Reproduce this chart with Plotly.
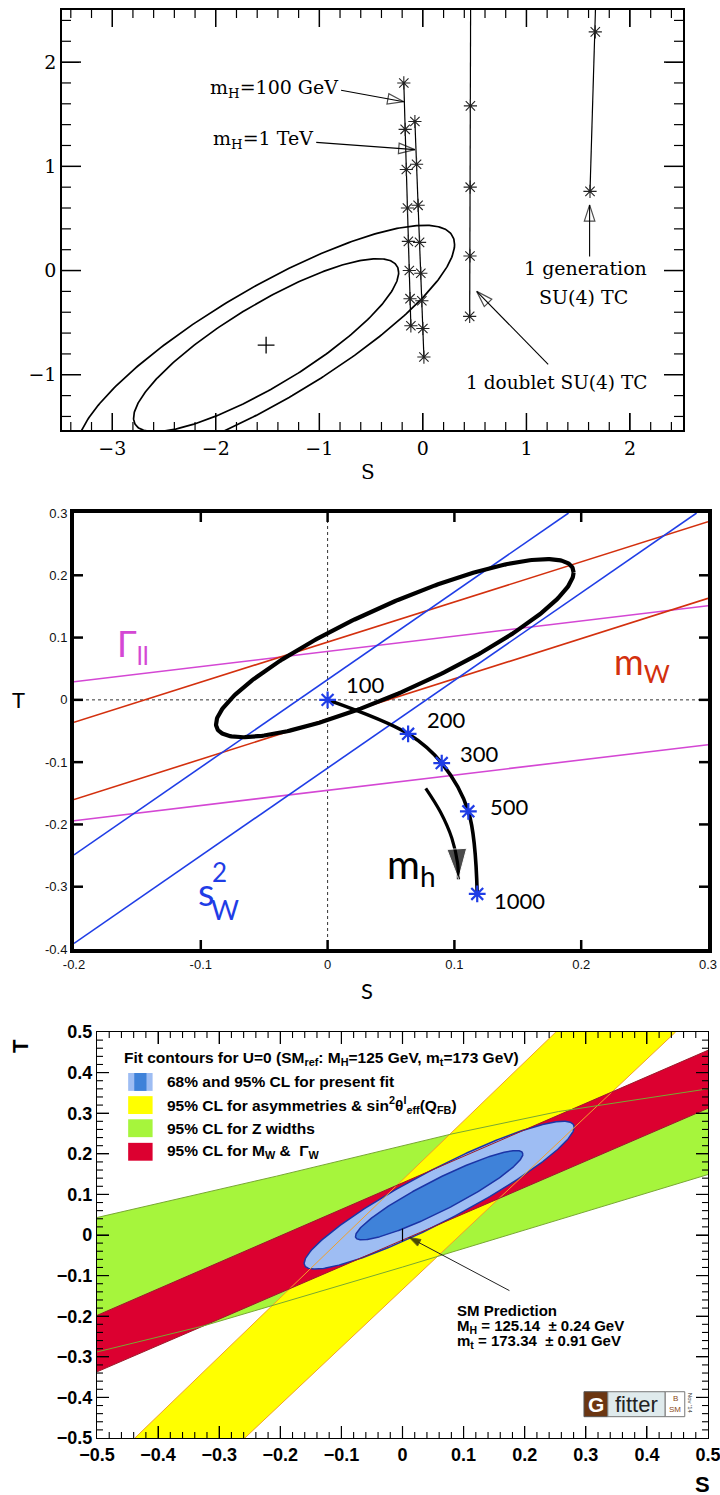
import numpy as np
import plotly.graph_objects as go

W, H = 720, 1495

# ================= Panel 1 (scanned S-T plot) =================
p1_mh100_S = [-0.184, -0.171, -0.160, -0.149, -0.140, -0.131, -0.124, -0.116]
p1_mh100_T = [1.80, 1.355, 0.97, 0.60, 0.28, 0.0, -0.27, -0.53]
p1_mh1000_S = [-0.077, -0.061, -0.046, -0.032, -0.020, -0.010, 0.000, 0.010]
p1_mh1000_T = [1.43, 1.02, 0.626, 0.27, -0.026, -0.29, -0.556, -0.83]
p1_doublet_line_S = [0.461, 0.452]
p1_doublet_line_T = [2.55, -0.44]
p1_doublet_star_S = [0.459, 0.457, 0.455, 0.452]
p1_doublet_star_T = [1.58, 0.80, 0.14, -0.44]
p1_gen_line_S = [1.668, 1.614]
p1_gen_line_T = [2.55, 0.76]
p1_gen_star_S = [1.665, 1.614]
p1_gen_star_T = [2.29, 0.76]
p1_center = [-1.514, -0.716]
p1_sig_outer = [1.82, 1.15]
p1_sig_inner = [1.28, 0.83]
p1_rho = 0.84
p1_arrow_gen_S, p1_arrow_gen_T = [1.61, 1.61], [0.135, 0.63]
p1_arrow_dbl_S, p1_arrow_dbl_T = [1.21, 0.52], [-0.90, -0.20]
p1_arrow_100_S, p1_arrow_100_T = [-0.79, -0.184], [1.73, 1.62]
p1_arrow_1tev_S, p1_arrow_1tev_T = [-1.03, -0.077], [1.23, 1.16]
p1_xmajor = [-3, -2, -1, 0, 1, 2]
p1_xlabels = ["\u22123", "\u22122", "\u22121", "0", "1", "2"]
p1_ymajor = [-1, 0, 1, 2]
p1_ylabels = ["\u22121", "0", "1", "2"]
p1_minor_step = 0.2

# ================= Panel 2 (coloured lines) =================
p2_S_ends = [-0.2, 0.3]
p2_sw_hi_S, p2_sw_hi_T = [-0.2, 0.19], [-0.249, 0.30]
p2_sw_lo_S, p2_sw_lo_T = [-0.2, 0.291], [-0.391, 0.30]
p2_mw_hi_T = [-0.036, 0.286]
p2_mw_lo_T = [-0.160, 0.163]
p2_gll_hi_T = [0.029, 0.151]
p2_gll_lo_T = [-0.194, -0.072]
p2_center = [0.053, 0.083]
p2_sig = [0.141, 0.143]
p2_rho = 0.85
p2_mh_S = [0.0, 0.0635, 0.090, 0.111, 0.118]
p2_mh_T = [0.0, -0.0545, -0.1015, -0.179, -0.3116]
p2_mh_labels = ["100", "200", "300", "500", "1000"]
p2_lab_S = [0.013, 0.077, 0.103, 0.1266, 0.130]
p2_lab_T = [0.024, -0.032, -0.0855, -0.171, -0.322]
p2_arrow_S = [0.0774, 0.089, 0.098, 0.1025, 0.1032]
p2_arrow_T = [-0.142, -0.180, -0.222, -0.262, -0.288]
p2_xmajor = [-0.2, -0.1, 0, 0.1, 0.2, 0.3]
p2_xlabels = ["-0.2", "-0.1", "0", "0.1", "0.2", "0.3"]
p2_ymajor = [-0.4, -0.3, -0.2, -0.1, 0, 0.1, 0.2, 0.3]
p2_ylabels = ["-0.4", "-0.3", "-0.2", "-0.1", "0", "0.1", "0.2", "0.3"]

# ================= Panel 3 (Gfitter) =================
p3_yellow_left_S = [-0.438, 0.251]
p3_yellow_right_S = [-0.258, 0.447]
p3_yellow_T = [-0.5, 0.5]
p3_red_S = [-0.5, 0.5]
p3_red_up_T = [-0.198, 0.455]
p3_red_lo_T = [-0.337, 0.312]
p3_green_up_S = [-0.5, -0.206, 0.081, 0.255, 0.5]
p3_green_up_T = [0.043, 0.145, 0.249, 0.304, 0.36]
p3_green_lo_S = [-0.5, -0.326, 0.0, 0.5]
p3_green_lo_T = [-0.288, -0.224, -0.079, 0.149]
p3_center = [0.060, 0.098]
p3_sig95 = [0.221, 0.182]
p3_sig68 = [0.137, 0.110]
p3_rho = 0.92
p3_sm = [0.0, 0.0]
p3_sm_arrow_S = [0.175, 0.011]
p3_sm_arrow_T = [-0.137, -0.006]
p3_major = [-0.5, -0.4, -0.3, -0.2, -0.1, 0, 0.1, 0.2, 0.3, 0.4, 0.5]
p3_labels = ["\u22120.5", "\u22120.4", "\u22120.3", "\u22120.2", "\u22120.1", "0",
             "0.1", "0.2", "0.3", "0.4", "0.5"]
p3_minor_step = 0.02
p3_leg_title = "Fit contours for U=0 (SM<sub>ref</sub>: M<sub>H</sub>=125 GeV, m<sub>t</sub>=173 GeV)"
p3_leg_labels = [
    "68% and 95% CL for present fit",
    "95% CL for asymmetries & sin<sup>2</sup>\u03b8<sup>l</sup><sub>eff</sub>(Q<sub>FB</sub>)",
    "95% CL for Z widths",
    "95% CL for M<sub>W</sub> &  \u0393<sub>W</sub>",
]
p3_leg_T = [0.377, 0.320, 0.263, 0.205]
p3_sm_text = ["SM Prediction",
              "M<sub>H</sub> = 125.14  \u00b1 0.24 GeV",
              "m<sub>t</sub> = 173.34  \u00b1 0.91 GeV"]
p3_sm_text_T = [-0.186, -0.226, -0.263]

# ---------- colours ----------
C_BLUE = "#1f3de6"
C_RED = "#d3300e"
C_MAG = "#d447d4"
C_YEL = "#ffff00"
C_YEL_EDGE = "#f2a02a"
C_GREEN = "#a6f53c"
C_GREEN_EDGE = "#78a832"
C_CRIMSON = "#dc0030"
C_CRIMSON_EDGE = "#9a1a2a"
C_LBLUE = "#9ebdf3"
C_DBLUE = "#3f82d9"
C_NAVY = "#1b34a6"

SERIF = "DejaVu Serif, Liberation Serif, serif"
SANS2 = "Lato, Open Sans, sans-serif"
HELV = "Liberation Sans, Arial, sans-serif"

P1_BOX = (62, 683, 10, 430)     # left, right, top, bottom (px)
P2_BOX = (74, 708, 513, 949)
P3_BOX = (97, 708, 1032, 1438)
p1_xr, p1_yr = [-3.485, 2.512], [-1.53, 2.5]
p2_xr, p2_yr = [-0.2, 0.3], [-0.4, 0.3]
p3_xr, p3_yr = [-0.5, 0.5], [-0.5, 0.5]


def ellipse(center, sig, rho, n=361):
    t = np.linspace(0, 2 * np.pi, n)
    s = center[0] + sig[0] * np.cos(t)
    tt = center[1] + sig[1] * (rho * np.cos(t) + np.sqrt(1 - rho ** 2) * np.sin(t))
    return s, tt


def dom_x(box):
    return [box[0] / W, box[1] / W]


def dom_y(box):
    return [1 - box[3] / H, 1 - box[2] / H]


fig = go.Figure()

# ---------------- Panel 1 traces ----------------
ax1 = dict(xaxis="x", yaxis="y")
for sig in (p1_sig_outer, p1_sig_inner):
    es, et = ellipse(p1_center, sig, p1_rho)
    fig.add_trace(go.Scatter(x=es, y=et, mode="lines",
                             line=dict(color="black", width=1.7), **ax1))
fig.add_trace(go.Scatter(x=[p1_center[0]], y=[p1_center[1]], mode="markers",
                         marker=dict(symbol="cross-thin-open", size=12, color="black",
                                     line=dict(color="black", width=1.3)), **ax1))
star1 = dict(symbol="asterisk-open", size=11, color="#222", line=dict(color="#222", width=1.1))
for xs, ys in ((p1_mh100_S, p1_mh100_T), (p1_mh1000_S, p1_mh1000_T)):
    fig.add_trace(go.Scatter(x=[xs[0], xs[-1]], y=[ys[0], ys[-1]], mode="lines",
                             line=dict(color="black", width=1.2), **ax1))
    fig.add_trace(go.Scatter(x=xs, y=ys, mode="markers", marker=star1, **ax1))
for (lx, ly), (sx, sy) in (((p1_doublet_line_S, p1_doublet_line_T), (p1_doublet_star_S, p1_doublet_star_T)),
                           ((p1_gen_line_S, p1_gen_line_T), (p1_gen_star_S, p1_gen_star_T))):
    fig.add_trace(go.Scatter(x=lx, y=ly, mode="lines",
                             line=dict(color="black", width=1.2), **ax1))
    fig.add_trace(go.Scatter(x=sx, y=sy, mode="markers", marker=star1, **ax1))
for xs, ys in ((p1_arrow_gen_S, p1_arrow_gen_T), (p1_arrow_dbl_S, p1_arrow_dbl_T),
               (p1_arrow_100_S, p1_arrow_100_T), (p1_arrow_1tev_S, p1_arrow_1tev_T)):
    fig.add_trace(go.Scatter(x=xs, y=ys, mode="lines+markers",
                             line=dict(color="black", width=1.1),
                             marker=dict(symbol="arrow-open", size=[0, 17], angleref="previous",
                                         color="black", line=dict(color="black", width=1.2)),
                             **ax1))

# ---------------- Panel 2 traces ----------------
ax2 = dict(xaxis="x2", yaxis="y2")
fig.add_trace(go.Scatter(x=[0, 0], y=p2_yr, mode="lines",
                         line=dict(color="#333", width=1, dash="dot"), **ax2))
fig.add_trace(go.Scatter(x=p2_S_ends, y=[0, 0], mode="lines",
                         line=dict(color="#333", width=1, dash="dot"), **ax2))
for ys in (p2_gll_hi_T, p2_gll_lo_T):
    fig.add_trace(go.Scatter(x=p2_S_ends, y=ys, mode="lines",
                             line=dict(color=C_MAG, width=1.6), **ax2))
for ys in (p2_mw_hi_T, p2_mw_lo_T):
    fig.add_trace(go.Scatter(x=p2_S_ends, y=ys, mode="lines",
                             line=dict(color=C_RED, width=1.6), **ax2))
for xs, ys in ((p2_sw_hi_S, p2_sw_hi_T), (p2_sw_lo_S, p2_sw_lo_T)):
    fig.add_trace(go.Scatter(x=xs, y=ys, mode="lines",
                             line=dict(color=C_BLUE, width=1.6), **ax2))
es, et = ellipse(p2_center, p2_sig, p2_rho)
fig.add_trace(go.Scatter(x=es, y=et, mode="lines",
                         line=dict(color="black", width=4.2), **ax2))
fig.add_trace(go.Scatter(x=p2_mh_S, y=p2_mh_T, mode="lines",
                         line=dict(color="black", width=3.6, shape="spline", smoothing=1.0), **ax2))
fig.add_trace(go.Scatter(x=p2_mh_S, y=p2_mh_T, mode="markers",
                         marker=dict(symbol="asterisk-open", size=14, color=C_BLUE,
                                     line=dict(color=C_BLUE, width=2.2)), **ax2))
fig.add_trace(go.Scatter(x=p2_arrow_S, y=p2_arrow_T, mode="lines+markers",
                         line=dict(color="black", width=3.2, shape="spline"),
                         marker=dict(symbol="arrow", size=[0, 0, 0, 0, 32], angleref="previous",
                                     color="black"), **ax2))

# ---------------- Panel 3 traces ----------------
ax3 = dict(xaxis="x3", yaxis="y3")
gx = p3_green_up_S + p3_green_lo_S[::-1]
gy = p3_green_up_T + p3_green_lo_T[::-1]
fig.add_trace(go.Scatter(x=gx, y=gy, mode="lines", fill="toself", fillcolor=C_GREEN,
                         line=dict(width=0), **ax3))
yx = p3_yellow_left_S + p3_yellow_right_S[::-1]
yy = p3_yellow_T + p3_yellow_T[::-1]
fig.add_trace(go.Scatter(x=yx, y=yy, mode="lines", fill="toself", fillcolor=C_YEL,
                         line=dict(width=0), **ax3))
rx = p3_red_S + p3_red_S[::-1]
ry = p3_red_up_T + p3_red_lo_T[::-1]
fig.add_trace(go.Scatter(x=rx, y=ry, mode="lines", fill="toself", fillcolor=C_CRIMSON,
                         line=dict(width=0), **ax3))
for sig, col in ((p3_sig95, C_LBLUE), (p3_sig68, C_DBLUE)):
    es, et = ellipse(p3_center, sig, p3_rho)
    fig.add_trace(go.Scatter(x=es, y=et, mode="lines", fill="toself", fillcolor=col,
                             line=dict(color=C_NAVY, width=1.5), **ax3))
for xs, ys, col in ((p3_yellow_left_S, p3_yellow_T, C_YEL_EDGE),
                    (p3_yellow_right_S, p3_yellow_T, C_YEL_EDGE),
                    (p3_red_S, p3_red_up_T, C_CRIMSON_EDGE),
                    (p3_red_S, p3_red_lo_T, C_CRIMSON_EDGE),
                    (p3_green_up_S, p3_green_up_T, C_GREEN_EDGE),
                    (p3_green_lo_S, p3_green_lo_T, C_GREEN_EDGE)):
    fig.add_trace(go.Scatter(x=xs, y=ys, mode="lines", line=dict(color=col, width=1), **ax3))
fig.add_trace(go.Scatter(x=[p3_sm[0]], y=[p3_sm[1]], mode="markers",
                         marker=dict(symbol="line-ns-open", size=9, color="black",
                                     line=dict(color="black", width=1.2)), **ax3))
fig.add_trace(go.Scatter(x=p3_sm_arrow_S, y=p3_sm_arrow_T, mode="lines+markers",
                         line=dict(color="#222", width=1),
                         marker=dict(symbol="arrow", size=[0, 12], angleref="previous",
                                     color="black"), **ax3))


# ---------------- inside tick marks on all four sides, from the tick values ----------------
def minor_vals(lo, hi, step, majors):
    k0, k1 = int(np.ceil(lo / step - 1e-9)), int(np.floor(hi / step + 1e-9))
    vals = [round(k * step, 6) for k in range(k0, k1 + 1)]
    return [v for v in vals if all(abs(v - m) > 1e-6 for m in majors)]


def add_tick_trace(xa, ya, box, xr, yr, xvals, yvals, len_x, len_y, width):
    wpx, hpx = box[1] - box[0], box[3] - box[2]
    dy = len_x * (yr[1] - yr[0]) / hpx
    dx = len_y * (xr[1] - xr[0]) / wpx
    xs, ys = [], []
    for v in xvals:
        if xr[0] < v < xr[1]:
            xs += [v, v, None, v, v, None]
            ys += [yr[0], yr[0] + dy, None, yr[1], yr[1] - dy, None]
    for v in yvals:
        if yr[0] < v < yr[1]:
            xs += [xr[0], xr[0] + dx, None, xr[1], xr[1] - dx, None]
            ys += [v, v, None, v, v, None]
    fig.add_trace(go.Scatter(x=xs, y=ys, mode="lines",
                             line=dict(color="black", width=width),
                             xaxis=xa, yaxis=ya, hoverinfo="skip"))


add_tick_trace("x", "y", P1_BOX, p1_xr, p1_yr, p1_xmajor, p1_ymajor, 17, 19, 1.5)
add_tick_trace("x", "y", P1_BOX, p1_xr, p1_yr,
               minor_vals(*p1_xr, p1_minor_step, p1_xmajor),
               minor_vals(*p1_yr, p1_minor_step, p1_ymajor), 8, 9, 1.2)
add_tick_trace("x2", "y2", P2_BOX, p2_xr, p2_yr, p2_xmajor, p2_ymajor, 9, 9, 2.5)
add_tick_trace("x3", "y3", P3_BOX, p3_xr, p3_yr, p3_major, p3_major, 12, 12, 1.2)
add_tick_trace("x3", "y3", P3_BOX, p3_xr, p3_yr,
               minor_vals(*p3_xr, p3_minor_step, p3_major),
               minor_vals(*p3_yr, p3_minor_step, p3_major), 6, 6, 1.1)

# ---------------- annotations ----------------
ann = []


def txt(x, y, text, size, color="black", family=SERIF, xref="x", yref="y",
        xanchor="center", yanchor="middle", textangle=0, weight="normal"):
    ann.append(dict(x=x, y=y, xref=xref, yref=yref, text=text, showarrow=False,
                    font=dict(size=size, color=color, family=family, weight=weight),
                    xanchor=xanchor, yanchor=yanchor, textangle=textangle))


txt(-0.80, 1.75, "m<sub>H</sub>=100 GeV", 19, xanchor="right")
txt(-1.04, 1.26, "m<sub>H</sub>=1 TeV", 19, xanchor="right")
txt(1.575, 0.02, "1 generation", 19)
txt(1.555, -0.25, "SU(4) TC", 19)
txt(1.29, -1.07, "1 doublet SU(4) TC", 18.5)
txt(368 / W, 1 - 472 / H, "S", 20, xref="paper", yref="paper")

for s, t, lab in zip(p2_lab_S, p2_lab_T, p2_mh_labels):
    txt(s, t, lab, 22, family=SANS2, xref="x2", yref="y2", xanchor="left")
txt(-0.168, 0.088, "\u0393<sub>ll</sub>", 36, color=C_MAG, family=SANS2,
    xref="x2", yref="y2", xanchor="left")
txt(0.224, 0.058, "m<sub>W</sub>", 36, color=C_RED, family=SANS2,
    xref="x2", yref="y2", xanchor="left")
txt(-0.1035, -0.307, "s", 38, color=C_BLUE, family=SANS2, xref="x2", yref="y2", xanchor="left")
txt(-0.0925, -0.276, "2", 26, color=C_BLUE, family=SANS2, xref="x2", yref="y2", xanchor="left")
txt(-0.0935, -0.336, "W", 27, color=C_BLUE, family=SANS2, xref="x2", yref="y2", xanchor="left")
txt(0.045, -0.268, "m<sub>h</sub>", 40, family=SANS2, xref="x2", yref="y2", xanchor="left")
txt(18 / W, 1 - 699 / H, "T", 22, family=SANS2, xref="paper", yref="paper")
txt(367 / W, 1 - 990 / H, "S", 22, family=SANS2, xref="paper", yref="paper")

txt(-0.4596, 0.435, p3_leg_title, 15.5, family=HELV, xref="x3", yref="y3", xanchor="left",
    weight="bold")
for t, lab in zip(p3_leg_T, p3_leg_labels):
    txt(-0.389, t, lab, 15.5, family=HELV, xref="x3", yref="y3", xanchor="left", weight="bold")
for t, lab in zip(p3_sm_text_T, p3_sm_text):
    txt(0.086, t, lab, 15, family=HELV, xref="x3", yref="y3", xanchor="left", weight="bold")
txt(20 / W, 1 - 1046 / H, "T", 22, family=HELV, xref="paper", yref="paper",
    textangle=-90, weight="bold")
txt(702 / W, 1 - 1484 / H, "S", 22, family=HELV, xref="paper", yref="paper", weight="bold")
txt(0.3165, -0.417, "G", 21, color="white", family=HELV, xref="x3", yref="y3", weight="bold")
txt(0.383, -0.418, "fitter", 22, color="#222", family=HELV, xref="x3", yref="y3")
txt(0.446, -0.402, "B", 8, color="#8a4a1a", family=HELV, xref="x3", yref="y3")
txt(0.446, -0.430, "SM", 8, color="#8a4a1a", family=HELV, xref="x3", yref="y3")
txt(0.471, -0.414, "Nov '14", 6, color="#333", family=HELV,
    xref="x3", yref="y3", textangle=90)

shapes = []
sw_x0, sw_x1 = -0.449, -0.409
sw_h = 0.022
shapes.append(dict(type="rect", xref="x3", yref="y3", x0=sw_x0, x1=sw_x1,
                   y0=p3_leg_T[0] - sw_h, y1=p3_leg_T[0] + sw_h, fillcolor=C_LBLUE,
                   line=dict(width=0)))
shapes.append(dict(type="rect", xref="x3", yref="y3", x0=sw_x0 + 0.010, x1=sw_x1 - 0.010,
                   y0=p3_leg_T[0] - sw_h, y1=p3_leg_T[0] + sw_h, fillcolor=C_DBLUE,
                   line=dict(width=0)))
for t, col in zip(p3_leg_T[1:], (C_YEL, C_GREEN, C_CRIMSON)):
    shapes.append(dict(type="rect", xref="x3", yref="y3", x0=sw_x0, x1=sw_x1,
                       y0=t - sw_h, y1=t + sw_h, fillcolor=col, line=dict(width=0)))
shapes.append(dict(type="rect", xref="x3", yref="y3", x0=0.297, x1=0.336, y0=-0.4475, y1=-0.386,
                   fillcolor="#6b3612", line=dict(color="#555", width=1)))
shapes.append(dict(type="rect", xref="x3", yref="y3", x0=0.336, x1=0.430, y0=-0.4475, y1=-0.386,
                   fillcolor="#dfeaec", line=dict(color="#777", width=1)))
shapes.append(dict(type="rect", xref="x3", yref="y3", x0=0.430, x1=0.462, y0=-0.4475, y1=-0.386,
                   fillcolor="white", line=dict(color="#777", width=1)))

# ---------------- axes ----------------
base = dict(showgrid=False, zeroline=False, showline=True, linecolor="black",
            mirror="allticks", ticks="inside", tickcolor="black", tickmode="array",
            automargin=False, ticklabeloverflow="allow")
common1 = dict(base, linewidth=1.5, tickwidth=1, ticklen=17,
               tickfont=dict(family=SERIF, size=19, color="black"))
xaxis1 = dict(common1, domain=dom_x(P1_BOX), range=p1_xr, anchor="y",
              tickvals=p1_xmajor, ticktext=p1_xlabels)
yaxis1 = dict(common1, domain=dom_y(P1_BOX), range=p1_yr, anchor="x",
              tickvals=p1_ymajor, ticktext=p1_ylabels)

common2 = dict(base, linewidth=4, tickwidth=1, ticklen=9,
               tickfont=dict(family=HELV, size=13, color="#111"))
xaxis2 = dict(common2, domain=dom_x(P2_BOX), range=p2_xr, anchor="y2",
              tickvals=p2_xmajor, ticktext=p2_xlabels)
yaxis2 = dict(common2, domain=dom_y(P2_BOX), range=p2_yr, anchor="x2",
              tickvals=p2_ymajor, ticktext=p2_ylabels)

common3 = dict(base, linewidth=1.2, tickwidth=1, ticklen=12,
               tickfont=dict(family=HELV, size=18, color="black", weight="bold"),
               tickvals=p3_major, ticktext=p3_labels)
xaxis3 = dict(common3, domain=dom_x(P3_BOX), range=p3_xr, anchor="y3")
yaxis3 = dict(common3, domain=dom_y(P3_BOX), range=p3_yr, anchor="x3")

fig.update_layout(
    width=W, height=H, margin=dict(l=0, r=0, t=0, b=0),
    paper_bgcolor="white", plot_bgcolor="white", showlegend=False,
    font=dict(family=HELV, color="black"),
    xaxis=xaxis1, yaxis=yaxis1, xaxis2=xaxis2, yaxis2=yaxis2, xaxis3=xaxis3, yaxis3=yaxis3,
    annotations=ann, shapes=shapes,
)

fig.write_html("out.html")
